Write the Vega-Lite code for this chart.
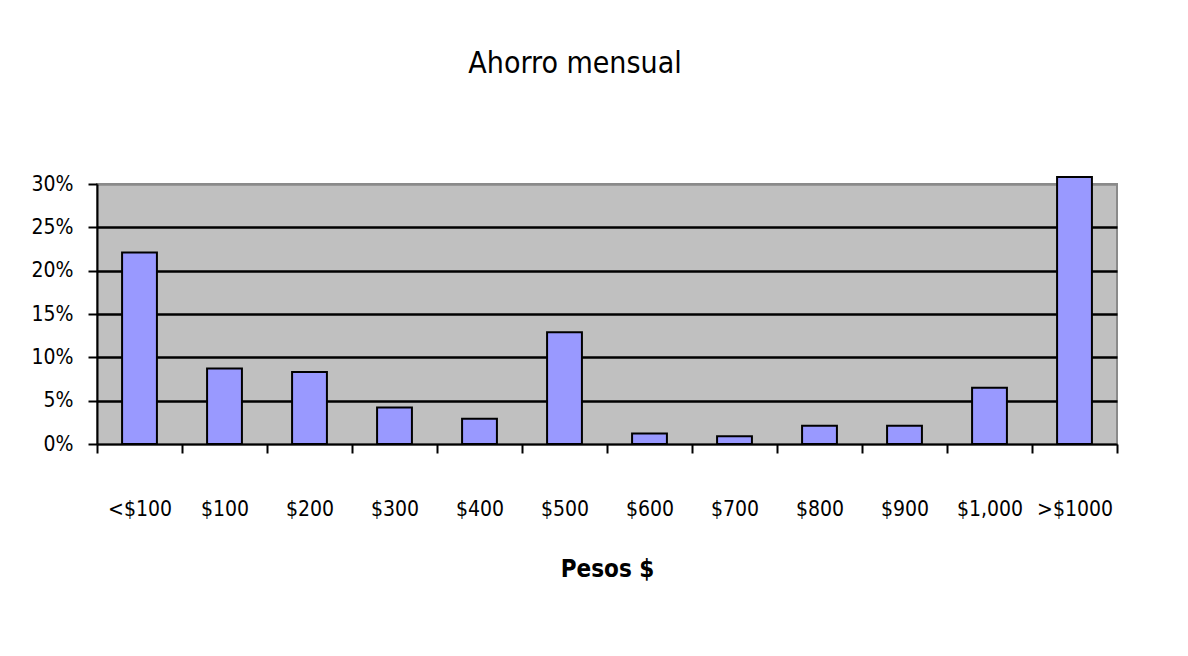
{
  "$schema": "https://vega.github.io/schema/vega-lite/v6.json",
  "width": 1020,
  "height": 260,
  "autosize": {"type": "none"},
  "padding": {"left": 97, "top": 184, "right": 71, "bottom": 212},
  "background": "white",
  "title": {
    "text": "Ahorro mensual",
    "font": "DejaVu Sans Condensed, Liberation Sans Narrow, sans-serif",
    "fontSize": 30,
    "fontWeight": "normal",
    "color": "black",
    "anchor": "middle",
    "dx": -32,
    "offset": 94
  },
  "data": {
    "values": [
      {"rango": "<$100", "pct": 0.221},
      {"rango": "$100", "pct": 0.087},
      {"rango": "$200", "pct": 0.083},
      {"rango": "$300", "pct": 0.042},
      {"rango": "$400", "pct": 0.029},
      {"rango": "$500", "pct": 0.129},
      {"rango": "$600", "pct": 0.012},
      {"rango": "$700", "pct": 0.009},
      {"rango": "$800", "pct": 0.021},
      {"rango": "$900", "pct": 0.021},
      {"rango": "$1,000", "pct": 0.065},
      {"rango": ">$1000", "pct": 0.308}
    ]
  },
  "mark": {"type": "bar", "fill": "#9999ff", "stroke": "black", "strokeWidth": 2, "clip": false, "width": {"band": 0.41}},
  "encoding": {
    "x": {
      "field": "rango",
      "type": "nominal",
      "sort": null,
      "scale": {"paddingInner": 0, "paddingOuter": 0},
      "axis": {
        "title": "Pesos $",
        "titleFont": "DejaVu Sans Condensed, Liberation Sans Narrow, sans-serif",
        "titleFontSize": 24,
        "titleFontWeight": "bold",
        "titleColor": "black",
        "titlePadding": 38,
        "labelAngle": 0,
        "labelFont": "DejaVu Sans Condensed, Liberation Sans Narrow, sans-serif",
        "labelFontSize": 21,
        "labelColor": "black",
        "labelBaseline": "alphabetic",
        "labelPadding": 62,
        "tickBand": "extent",
        "tickSize": 9,
        "tickWidth": 2,
        "tickColor": "black",
        "domainColor": "black",
        "domainWidth": 2,
        "grid": false
      }
    },
    "y": {
      "field": "pct",
      "type": "quantitative",
      "scale": {"domain": [0, 0.3], "nice": false},
      "axis": {
        "title": null,
        "format": ".0%",
        "values": [0, 0.05, 0.1, 0.15, 0.2, 0.25, 0.3],
        "labelFont": "DejaVu Sans Condensed, Liberation Sans Narrow, sans-serif",
        "labelFontSize": 21,
        "labelColor": "black",
        "labelPadding": 15,
        "tickSize": 9,
        "tickWidth": 2,
        "tickColor": "black",
        "domainColor": "black",
        "domainWidth": 2,
        "grid": true,
        "gridColor": {"condition": {"test": "datum.value >= 0.3 || datum.value <= 0", "value": "#8a8a8a"}, "value": "black"},
        "gridWidth": 2.5,
        "gridOpacity": 1
      }
    }
  },
  "config": {
    "view": {"fill": "#c0c0c0", "stroke": "#8a8a8a", "strokeWidth": 2}
  }
}
